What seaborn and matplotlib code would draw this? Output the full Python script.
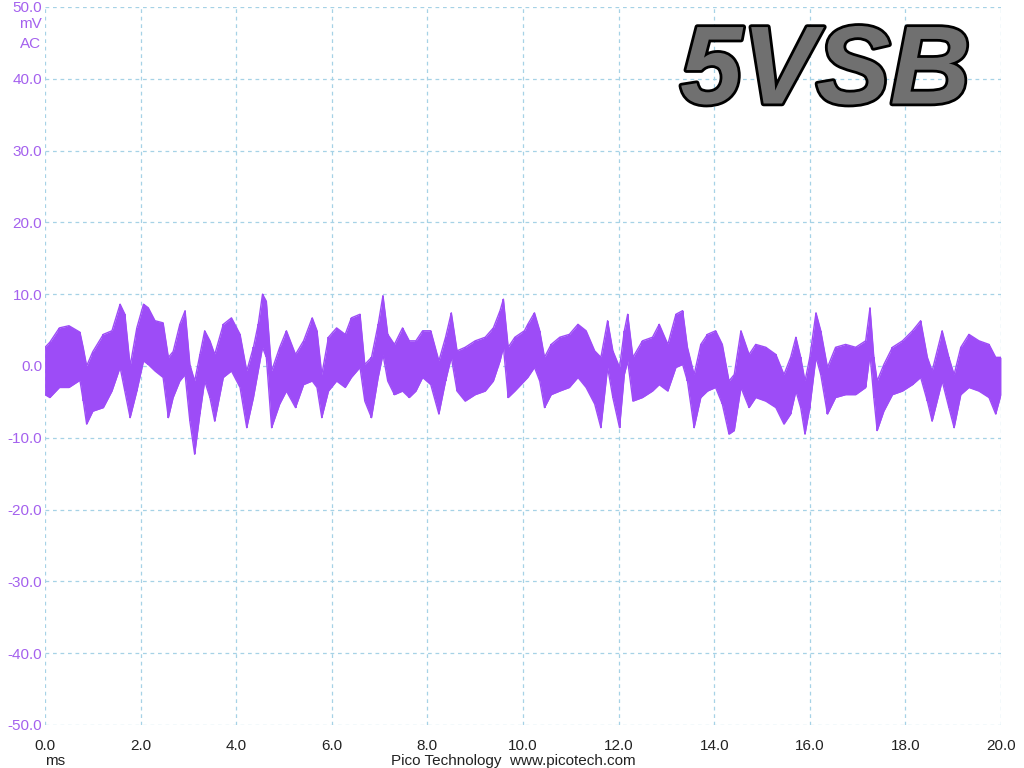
"""
5VSB ripple capture (PicoScope style), 0-20 ms, AC coupled, mV.
Trace drawn as a min/max envelope read off the scope screen.
"""

import numpy as np
import pandas as pd
import matplotlib.pyplot as plt
import matplotlib.patheffects as pe
import seaborn as sns

# envelope samples: time (ms), max (mV), min (mV)
time_ms = [
    0.0, 0.1, 0.3, 0.5, 0.73, 0.8, 0.87, 1.0, 1.22, 1.4, 1.57, 1.67, 1.78, 1.92,
    2.06, 2.16, 2.3, 2.47, 2.58, 2.68, 2.82, 2.93, 3.03, 3.13, 3.24, 3.34, 3.45,
    3.55, 3.73, 3.9, 4.08, 4.22, 4.36, 4.46, 4.55, 4.63, 4.74, 4.91, 5.05, 5.24,
    5.41, 5.59, 5.69, 5.79, 5.93, 6.1, 6.28, 6.41, 6.59, 6.69, 6.83, 6.97, 7.07,
    7.17, 7.31, 7.48, 7.62, 7.76, 7.9, 8.07, 8.24, 8.38, 8.5, 8.62, 8.79, 9.0,
    9.21, 9.38, 9.52, 9.59, 9.69, 9.83, 10.03, 10.1, 10.24, 10.35, 10.45, 10.59,
    10.77, 10.97, 11.15, 11.32, 11.5, 11.63, 11.77, 11.88, 12.02, 12.12, 12.19,
    12.3, 12.5, 12.71, 12.85, 13.03, 13.2, 13.34, 13.44, 13.58, 13.72, 13.86,
    14.03, 14.17, 14.31, 14.42, 14.56, 14.73, 14.87, 15.08, 15.29, 15.46, 15.6,
    15.71, 15.81, 15.9, 16.0, 16.13, 16.23, 16.37, 16.54, 16.75, 16.96, 17.17,
    17.26, 17.34, 17.41, 17.55, 17.73, 17.94, 18.15, 18.32, 18.46, 18.56, 18.77,
    18.91, 19.02, 19.16, 19.33, 19.54, 19.75, 19.89, 20.0,
]
v_max = [
    2.6, 3.3, 5.3, 5.6, 4.7, 2.5, 0.0, 2.0, 4.4, 4.9, 8.6, 7.2, 0.0, 5.3,
    8.6, 8.1, 6.3, 6.0, 1.2, 2.0, 5.8, 7.7, 0.2, -2.1, 1.6, 4.9, 3.5,
    1.6, 5.8, 6.7, 4.4, -0.7, 2.6, 5.8, 10.0, 9.0, -0.7, 2.6, 4.9, 1.6,
    3.5, 6.7, 4.9, -1.2, 4.0, 5.3, 4.4, 6.7, 7.2, 0.2, 1.2, 5.8, 9.8,
    4.4, 3.0, 5.3, 3.5, 3.5, 4.9, 4.9, 0.7, 4.0, 7.4, 2.1, 2.6, 3.5,
    4.0, 5.3, 7.7, 9.3, 2.6, 4.0, 4.9, 5.8, 7.4, 4.9, 1.2, 3.0,
    4.0, 4.4, 5.8, 4.9, 2.1, 1.2, 6.3, 2.1, -0.2, 4.9, 7.2,
    1.2, 3.5, 4.0, 5.8, 3.0, 7.2, 7.7, 2.6, -1.2, 3.0, 4.4,
    4.9, 3.0, -2.1, -1.2, 4.9, 1.6, 3.0, 2.6, 1.6, -1.2, 1.2,
    4.0, 1.2, -2.1, 1.2, 7.4, 4.9, -0.2, 2.6, 3.0, 2.6, 3.5,
    8.1, 1.2, -2.1, 0.2, 2.6, 3.5, 4.9, 6.3, 1.2, -0.7, 4.9,
    1.2, -1.2, 2.6, 4.4, 3.5, 3.0, 1.2, 1.2,
]
v_min = [
    -4.0, -4.4, -3.0, -3.0, -2.0, -4.9, -8.1, -6.3, -5.8, -3.5, -0.2, -3.5, -7.2, -3.5,
    0.7, 0.2, -0.7, -1.6, -7.2, -4.4, -2.1, -1.2, -7.7, -12.3, -6.7, -2.1, -4.4,
    -7.7, -1.6, -0.7, -3.0, -8.6, -4.4, -0.7, 2.6, 1.2, -8.6, -5.3, -3.5, -5.8,
    -2.6, -2.1, -3.0, -7.2, -3.5, -2.1, -3.0, -1.6, -0.2, -4.9, -7.2, -1.6, 1.6,
    -2.1, -4.0, -3.5, -4.4, -3.5, -1.6, -2.6, -6.7, -2.1, 1.2, -3.5, -4.9, -4.0,
    -3.5, -2.1, 0.7, 2.6, -4.4, -3.5, -2.1, -1.6, -0.2, -2.1, -5.8, -4.0,
    -3.5, -3.0, -1.6, -3.0, -5.3, -8.6, -0.2, -4.4, -8.6, -1.2, 0.7,
    -4.9, -4.4, -3.5, -2.6, -3.5, -0.2, 0.2, -2.1, -8.6, -4.4, -3.5,
    -3.0, -5.3, -9.5, -9.0, -3.0, -5.8, -4.4, -4.9, -5.8, -8.1, -6.7,
    -3.5, -5.8, -9.5, -5.8, 1.2, -1.2, -6.7, -4.4, -4.0, -4.0, -3.0,
    1.6, -4.4, -9.0, -6.3, -4.0, -3.5, -2.6, -1.6, -4.9, -7.7, -2.1,
    -5.8, -8.6, -4.0, -3.0, -3.5, -4.4, -6.7, -4.0,
]

x_ticks = np.arange(0, 20.1, 2.0)
y_ticks = np.arange(-50, 50.1, 10.0)

TRACE = "#9d4cf7"
LABEL = "#a461ee"
GRID = "#a6d2e6"

sns.set_style("white")
plt.rcParams["font.family"] = ["Liberation Sans", "DejaVu Sans"]

df = pd.DataFrame({"t": time_ms, "hi": v_max, "lo": v_min})

fig = plt.figure(figsize=(10.24, 7.68), dpi=100)
ax = fig.add_axes([0.044, 0.056, 0.9335, 0.935])

ax.fill_between(df["t"], df["lo"], df["hi"], color=TRACE, linewidth=0)
ax.vlines(df["t"], df["lo"], df["hi"], color=TRACE, linewidth=1.2)
sns.lineplot(data=df, x="t", y="hi", ax=ax, color=TRACE, linewidth=1.0)
sns.lineplot(data=df, x="t", y="lo", ax=ax, color=TRACE, linewidth=1.0)

ax.set_xlim(0, 20)
ax.set_ylim(-50, 50)
ax.set_xticks(x_ticks)
ax.set_yticks(y_ticks)
ax.set_xticklabels([f"{v:.1f}" for v in x_ticks], fontsize=11, color="#222222")
ax.set_yticklabels([f"{v:.1f}" for v in y_ticks], fontsize=11, color=LABEL)
ax.tick_params(axis="x", length=0, pad=10)
ax.tick_params(axis="y", length=0, pad=2)
ax.set_xlabel("")
ax.set_ylabel("")
for s in ax.spines.values():
    s.set_visible(False)
ax.grid(True, color=GRID, linestyle=(0, (3, 3)), linewidth=0.9)
ax.set_axisbelow(True)

# units under the top y label
fig.text(0.030, 0.978, "mV", color=LABEL, fontsize=11, ha="center", va="top")
fig.text(0.030, 0.952, "AC", color=LABEL, fontsize=11, ha="center", va="top")
fig.text(0.054, 0.0, "ms", color="#222222", fontsize=11, ha="center", va="bottom")
fig.text(0.501, 0.0, "Pico Technology  www.picotech.com", color="#222222",
         fontsize=11, ha="center", va="bottom")

# big channel label
fig.text(0.806, 0.903, "5VSB", fontsize=80, fontweight="bold", fontstyle="italic",
         color="#707070", ha="center", va="center",
         path_effects=[pe.Stroke(linewidth=4, foreground="black"), pe.Normal()])

fig.savefig("out.png", dpi=100)
